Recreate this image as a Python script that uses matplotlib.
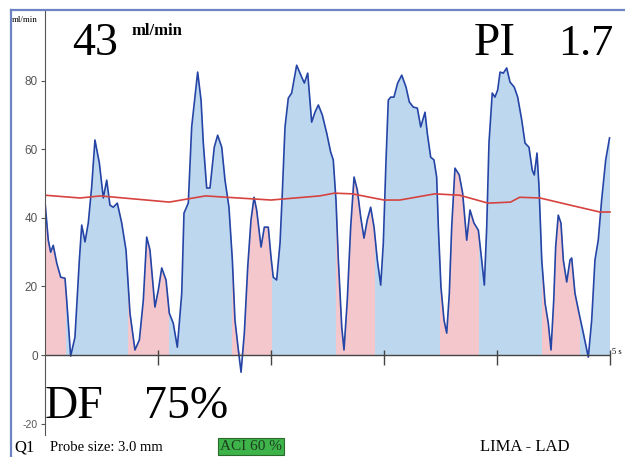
import numpy as np
import matplotlib.pyplot as plt
from matplotlib.lines import Line2D
from matplotlib.patches import Rectangle

plt.rcParams['axes.unicode_minus'] = False

# flow trace (s, ml/min)
t = [0.000, 0.029, 0.050, 0.073, 0.104, 0.139, 0.177, 0.192, 0.227, 0.265,
     0.304, 0.325, 0.354, 0.383, 0.413, 0.442, 0.481, 0.516, 0.546, 0.575,
     0.604, 0.640, 0.679, 0.717, 0.752, 0.796, 0.835, 0.870, 0.900, 0.929,
     0.973, 1.003, 1.033, 1.071, 1.100, 1.135, 1.171, 1.210, 1.230, 1.268,
     1.298, 1.351, 1.381, 1.401, 1.431, 1.460, 1.498, 1.528, 1.564, 1.593,
     1.628, 1.658, 1.681, 1.711, 1.735, 1.764, 1.794, 1.823, 1.850, 1.873,
     1.912, 1.941, 1.976, 2.000, 2.020, 2.050, 2.080, 2.100, 2.124, 2.153,
     2.183, 2.227, 2.272, 2.295, 2.325, 2.360, 2.389, 2.419, 2.454, 2.493,
     2.528, 2.551, 2.575, 2.596, 2.626, 2.646, 2.675, 2.705, 2.735, 2.764,
     2.794, 2.823, 2.852, 2.882, 2.912, 2.941, 2.971, 2.994, 3.018, 3.038,
     3.059, 3.088, 3.121, 3.157, 3.195, 3.224, 3.259, 3.295, 3.325, 3.363,
     3.383, 3.413, 3.442, 3.466, 3.481, 3.504, 3.531, 3.555, 3.578, 3.599,
     3.628, 3.666, 3.696, 3.732, 3.761, 3.796, 3.835, 3.858, 3.888, 3.909,
     3.929, 3.958, 3.982, 4.006, 4.027, 4.056, 4.086, 4.115, 4.153, 4.183,
     4.219, 4.248, 4.283, 4.312, 4.330, 4.354, 4.372, 4.396, 4.425, 4.454,
     4.478, 4.502, 4.519, 4.542, 4.566, 4.587, 4.617, 4.646, 4.661, 4.690,
     4.726, 4.764, 4.808, 4.838, 4.867, 4.896, 4.926, 4.962, 4.996]
flow = [44.6, 33.5, 30.0, 32.0, 26.8, 22.7, 22.4, 16.0, -0.3, 5.2,
        27.7, 37.9, 33.0, 38.5, 49.0, 62.7, 56.0, 45.8, 51.0, 43.7,
        43.1, 44.3, 38.5, 30.6, 12.2, 1.5, 4.4, 16.0, 34.4, 30.6,
        14.0, 19.0, 25.4, 21.9, 12.2, 9.3, 2.3, 18.0, 41.4, 44.3,
        66.5, 82.5, 74.3, 61.8, 48.7, 48.7, 60.6, 64.1, 60.6, 51.0,
        43.1, 27.7, 10.2, 1.5, -5.0, 6.4, 25.7, 39.4, 46.0, 42.3,
        31.5, 37.3, 37.3, 28.6, 22.7, 21.9, 32.7, 47.2, 66.5, 74.9,
        76.4, 84.5, 81.0, 79.3, 82.2, 67.9, 70.8, 72.9, 70.0, 64.7,
        59.2, 56.9, 45.2, 27.7, 8.2, 1.5, 16.0, 37.3, 51.9, 48.1,
        40.2, 34.1, 39.4, 43.1, 37.3, 27.7, 20.4, 32.7, 56.9, 74.3,
        75.2, 75.2, 79.3, 81.6, 78.1, 73.8, 72.3, 72.0, 66.5, 70.8,
        64.7, 57.7, 56.9, 51.9, 37.3, 19.8, 10.2, 6.4, 18.0, 37.3,
        54.5, 52.5, 47.2, 33.5, 42.3, 38.5, 36.4, 29.7, 20.4, 37.3,
        61.8, 76.4, 75.2, 77.3, 82.5, 82.2, 83.7, 79.6, 78.1, 75.2,
        68.5, 61.8, 60.6, 53.9, 52.5, 58.9, 49.0, 27.7, 15.2, 9.3,
        1.5, 16.0, 31.5, 40.8, 38.5, 27.7, 21.3, 27.7, 28.3, 18.0,
        12.2, 6.4, -0.6, 10.2, 27.7, 33.5, 45.2, 56.9, 63.3]

# mean flow line
mean_t = [0.0, 0.31, 0.49, 1.10, 1.42, 2.00, 2.43, 2.56, 2.72, 3.00,
          3.14, 3.45, 3.67, 3.92, 4.12, 4.20, 4.38, 4.65, 4.91, 5.0]
mean_flow = [46.6, 45.8, 46.4, 44.6, 46.4, 45.2, 46.4, 47.2, 47.0, 45.2,
             45.2, 47.0, 46.6, 44.3, 44.6, 46.0, 45.8, 43.7, 41.7, 41.7]

# diastolic intervals (pink)
diastole = [(0.0, 0.177), (0.735, 1.088), (1.655, 2.0),
            (2.575, 2.912), (3.496, 3.832), (4.398, 4.726)]

x_ticks = [1, 2, 3, 4, 5]
y_ticks = [-20, 0, 20, 40, 60, 80]

W, H = 625, 457
fig = plt.figure(figsize=(6.25, 4.57), dpi=100)
ax = fig.add_axes([45 / W, 22 / H, 580 / W, 425 / H])
ax.set_xlim(0, 580 / 113)
ax.set_ylim(-23.3, 100.6)

pos = np.clip(flow, 0, None)
ax.fill_between(t, pos, 0, color='#bdd7ee', lw=0)
for a, b in diastole:
    p = ax.fill_between(t, pos, 0, color='#f4c7cc', lw=0)
    p.set_clip_path(Rectangle((a, -30), b - a, 150, transform=ax.transData))

ax.plot(t, flow, color='#2444a6', lw=1.2)
ax.plot(mean_t, mean_flow, color='#d6433f', lw=1.2)

ax.hlines(0, 0, x_ticks[-1], color='#444444', lw=1)
ax.vlines(x_ticks, -3, 1.5, color='#444444', lw=1)
ax.text(x_ticks[-1] + 0.02, 1.0, '5 s', fontsize=6, va='center',
        family='Liberation Serif')

ax.set_xticks([])
ax.set_yticks(y_ticks)
ax.tick_params(axis='y', direction='out', length=3, width=0.8,
               colors='#555555', labelsize=8.5, pad=2)
for lab in ax.get_yticklabels():
    lab.set_family('Liberation Sans')
    lab.set_color('#555555')
ax.get_yticklabels()[0].set_fontsize(7.5)
for s in ['top', 'right', 'bottom']:
    ax.spines[s].set_visible(False)
ax.spines['left'].set_color('#555555')

# outer screen frame
fig.add_artist(Line2D([11 / W, 11 / W], [0, 1 - 10 / H], color='#6f82c4', lw=1.6))
fig.add_artist(Line2D([11 / W, 1], [1 - 10 / H, 1 - 10 / H], color='#6f82c4', lw=1.6))

serif = 'Liberation Serif'
def px(x, y):
    return x / W, 1 - y / H

fig.text(*px(12, 22), 'ml/min', fontsize=6.5, family=serif)
fig.text(*px(72, 55), '43', fontsize=33, family=serif)
fig.text(*px(131, 35), 'ml/min', fontsize=12, family=serif, weight='bold')
fig.text(*px(474, 55), 'PI', fontsize=34, family=serif)
fig.text(*px(558, 55), '1.7', fontsize=32, family=serif)
fig.text(*px(45, 418), 'DF', fontsize=33, family=serif)
fig.text(*px(144, 418), '75%', fontsize=33, family=serif)

fig.text(*px(14, 451), 'Q1', fontsize=12, family=serif)
fig.text(*px(50, 451), 'Probe size: 3.0 mm', fontsize=10.5, family=serif)
fig.text(*px(220, 450), 'ACI 60 %', fontsize=11, family=serif, color='#1d3d1d',
         bbox=dict(facecolor='#3db34a', edgecolor='#2a6a2a', pad=1.5, lw=0.8))
fig.text(*px(480, 451), 'LIMA - LAD', fontsize=12, family=serif)

fig.savefig('out.png', dpi=100)
